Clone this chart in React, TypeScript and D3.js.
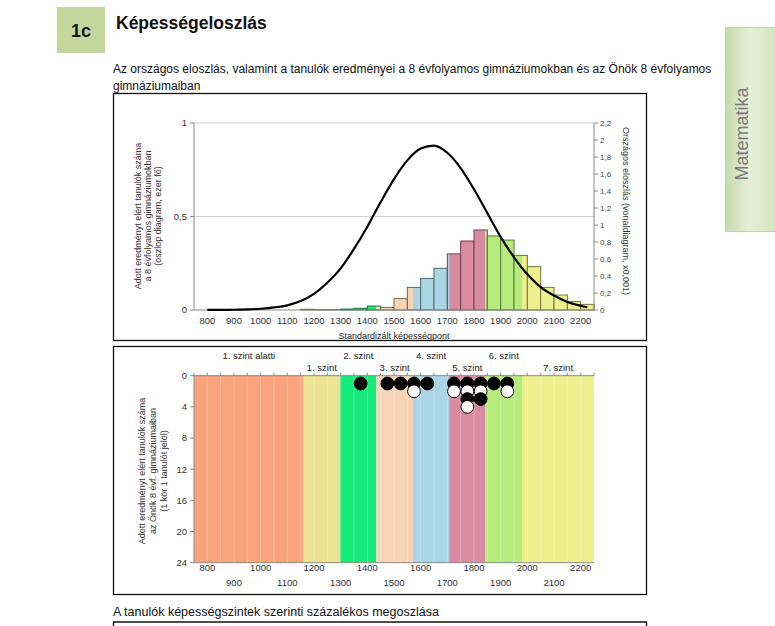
import React from 'react';
import * as d3 from 'd3';

// ---------- DATA ----------
const binStarts = [800, 850, 900, 950, 1000, 1050, 1100, 1150, 1200, 1250, 1300, 1350, 1400, 1450, 1500, 1550, 1600, 1650, 1700, 1750, 1800, 1850, 1900, 1950, 2000, 2050, 2100, 2150, 2200];
const barValues = [0, 0, 0, 0, 0, 0, 0, 0.004, 0.002, 0.002, 0.005, 0.009, 0.021, 0.014, 0.061, 0.121, 0.169, 0.223, 0.3, 0.369, 0.428, 0.396, 0.374, 0.292, 0.232, 0.121, 0.08, 0.045, 0.03];

const curveScores = [800, 850, 900, 950, 1000, 1050, 1100, 1150, 1200, 1250, 1300, 1350, 1400, 1450, 1500, 1550, 1600, 1650, 1700, 1750, 1800, 1850, 1900, 1950, 2000, 2050, 2100, 2150, 2200, 2225];
const curveValues = [0.001, 0.002, 0.003, 0.007, 0.015, 0.03, 0.055, 0.105, 0.19, 0.32, 0.49, 0.72, 0.98, 1.27, 1.54, 1.76, 1.9, 1.935, 1.85, 1.67, 1.42, 1.14, 0.86, 0.62, 0.42, 0.27, 0.17, 0.095, 0.05, 0.032];

const levelNames = ['1. szint alatti', '1. szint', '2. szint', '3. szint', '4. szint', '5. szint', '6. szint', '7. szint'];
const levelBounds = [750, 1161, 1298, 1434, 1571, 1707, 1843, 1980, 2250];
const levelColors = ['#F9A47C', '#EDE394', '#16EA78', '#FAD5B5', '#AAD5E3', '#DB8BA1', '#B5EC7C', '#EEF08E'];

const dotBins = [1375, 1475, 1525, 1575, 1625, 1725, 1775, 1825, 1875, 1925];
const dotCounts = [1, 1, 1, 2, 1, 2, 4, 3, 1, 2];

const xTicks = [800, 900, 1000, 1100, 1200, 1300, 1400, 1500, 1600, 1700, 1800, 1900, 2000, 2100, 2200];
const xTicksRow1 = [800, 1000, 1200, 1400, 1600, 1800, 2000, 2200];
const xTicksRow2 = [900, 1100, 1300, 1500, 1700, 1900, 2100];
const leftTicks = [0, 0.5, 1];
const rightTicks = [0, 0.2, 0.4, 0.6, 0.8, 1, 1.2, 1.4, 1.6, 1.8, 2, 2.2];
const dotTicks = [0, 4, 8, 12, 16, 20, 24];

const FONT = "'Liberation Sans', Arial, sans-serif";
const fmt = (v: number) => String(v).replace('.', ',');

export default function App() {
  const W = 775, H = 626;
  const x = d3.scaleLinear().domain([750, 2250]).range([194, 594]);
  const yL = d3.scaleLinear().domain([0, 1]).range([310, 123]);
  const yR = d3.scaleLinear().domain([0, 2.2]).range([310, 123]);
  const yD = d3.scaleLinear().domain([0, 24]).range([375.7, 562.7]);

  const levelAt = (v: number) => {
    for (let i = 0; i < levelNames.length; i++) if (v >= levelBounds[i] && v < levelBounds[i + 1]) return i;
    return levelNames.length - 1;
  };

  const line = d3.line<number>()
    .x((_, i) => x(curveScores[i]))
    .y((d) => yR(d))
    .curve(d3.curveMonotoneX);

  const bars: React.ReactNode[] = [];
  binStarts.forEach((s, i) => {
    const e = s + 50;
    const v = barValues[i];
    if (v <= 0) return;
    const top = yL(v);
    const h = yL(0) - top;
    for (let k = 0; k < levelNames.length; k++) {
      const lo = Math.max(s, levelBounds[k]);
      const hi = Math.min(e, levelBounds[k + 1]);
      if (hi > lo) {
        bars.push(<rect key={`b${i}-${k}`} x={x(lo)} y={top} width={x(hi) - x(lo)} height={h} fill={levelColors[k]} />);
      }
    }
    const stroke = d3.color(levelColors[levelAt(s + 25)])!.darker(2).formatHex();
    bars.push(<rect key={`o${i}`} x={x(s)} y={top} width={x(e) - x(s)} height={h} fill="none" stroke={stroke} strokeWidth={1} />);
  });

  const minorTicks = d3.range(750, 2251, 50);

  const dots: React.ReactNode[] = [];
  const maxCount = d3.max(dotCounts) || 0;
  for (let r = 1; r <= maxCount; r++) {
    dotBins.forEach((b, i) => {
      if (dotCounts[i] >= r) {
        dots.push(<circle key={`d${i}-${r}`} cx={x(b)} cy={yD(r)} r={6.4} fill={r % 2 === 1 ? '#000' : '#fff'} stroke="#000" strokeWidth={1} />);
      }
    });
  }

  return (
    <svg width={W} height={H} style={{ position: 'absolute', left: 0, top: 0, background: '#fff' }} fontFamily={FONT}>
      <defs>
        <linearGradient id="panelGrad" x1="0" x2="1" y1="0" y2="0">
          <stop offset="0" stopColor="#c6d9aa" />
          <stop offset="0.45" stopColor="#e6efd9" />
          <stop offset="1" stopColor="#d3e3bd" />
        </linearGradient>
      </defs>

      {/* header */}
      <rect x={57} y={7} width={48} height={46} fill="#C3D69B" />
      <text x={81} y={37} textAnchor="middle" fontSize={18} fontWeight="bold" fill="#111">1c</text>
      <text x={116} y={29} fontSize={17.5} fontWeight="bold" fill="#111">Képességeloszlás</text>
      <text x={113} y={73} fontSize={12} fill="#111">Az országos eloszlás, valamint a tanulók eredményei a 8 évfolyamos gimnáziumokban és az Önök 8 évfolyamos</text>
      <text x={113} y={90} fontSize={12} fill="#111">gimnáziumaiban</text>

      {/* side panel */}
      <rect x={725.5} y={27.5} width={52} height={204} fill="url(#panelGrad)" stroke="#c2d6a4" />
      <text transform="translate(748,134) rotate(-90)" textAnchor="middle" fontSize={18} fill="#7a7a7a">Matematika</text>

      {/* ---------- top chart ---------- */}
      <rect x={113.5} y={93.5} width={533} height={247} fill="none" stroke="#111" strokeWidth={1.3} />
      {leftTicks.filter((t) => t > 0).map((t) => (
        <line key={`g${t}`} x1={194} x2={594} y1={yL(t)} y2={yL(t)} stroke="#d0d0d0" strokeWidth={1} />
      ))}
      {bars}
      <line x1={194} x2={594} y1={310} y2={310} stroke="#888" />
      <path d={line(curveValues) || ''} fill="none" stroke="#000" strokeWidth={2.2} />
      {/* left axis */}
      <line x1={194} x2={194} y1={123} y2={310} stroke="#888" />
      {leftTicks.map((t) => (
        <g key={`lt${t}`}>
          <line x1={190} x2={194} y1={yL(t)} y2={yL(t)} stroke="#888" />
          <text x={187} y={yL(t) + 3.3} textAnchor="end" fontSize={9.5} fill="#333">{fmt(t)}</text>
        </g>
      ))}
      {/* right axis */}
      <line x1={594} x2={594} y1={123} y2={310} stroke="#888" />
      {rightTicks.map((t) => (
        <g key={`rt${t}`}>
          <line x1={594} x2={598} y1={yR(t)} y2={yR(t)} stroke="#888" />
          <text x={600} y={yR(t) + 3} fontSize={8} fill="#444">{fmt(Math.round(t * 10) / 10)}</text>
        </g>
      ))}
      {xTicks.map((t) => (
        <text key={`xt${t}`} x={x(t)} y={324} textAnchor="middle" fontSize={9.5} fill="#333">{t}</text>
      ))}
      <text x={394} y={339} textAnchor="middle" fontSize={9} fill="#222">Standardizált képességpont</text>
      <g transform="translate(148,216) rotate(-90)" fontSize={9} fill="#333" textAnchor="middle">
        <text y={-7}>Adott eredményt elért tanulók száma</text>
        <text y={3}>a 8 évfolyamos gimnáziumokban</text>
        <text y={13}>(oszlop diagram, ezer fő)</text>
      </g>
      <text transform="translate(623,211) rotate(90)" textAnchor="middle" fontSize={9} fill="#333">Országos eloszlás (vonaldiagram, x0,001)</text>

      {/* ---------- bottom chart ---------- */}
      <rect x={113.5} y={346.5} width={533} height={248} fill="none" stroke="#111" strokeWidth={1.3} />
      {levelNames.map((n, k) => (
        <rect key={`band${k}`} x={x(levelBounds[k])} y={yD(0)} width={x(levelBounds[k + 1]) - x(levelBounds[k])} height={yD(24) - yD(0)} fill={levelColors[k]} />
      ))}
      {minorTicks.slice(1, -1).map((t) => (
        <line key={`vl${t}`} x1={x(t)} x2={x(t)} y1={yD(0)} y2={yD(24)} stroke="#fff" strokeOpacity={0.28} />
      ))}
      <line x1={194} x2={594} y1={yD(0)} y2={yD(0)} stroke="#888" />
      {minorTicks.map((t) => (
        <line key={`mt${t}`} x1={x(t)} x2={x(t)} y1={yD(0) - 3} y2={yD(0)} stroke="#888" />
      ))}
      <line x1={194} x2={594} y1={yD(24)} y2={yD(24)} stroke="#888" />
      <line x1={194} x2={194} y1={yD(0)} y2={yD(24)} stroke="#888" />
      {dotTicks.map((t) => (
        <g key={`dt${t}`}>
          <line x1={190} x2={194} y1={yD(t)} y2={yD(t)} stroke="#888" />
          <text x={187} y={yD(t) + 3.3} textAnchor="end" fontSize={9.5} fill="#333">{t}</text>
        </g>
      ))}
      {levelNames.map((n, k) => (
        <text key={`ln${k}`} x={(x(levelBounds[k]) + x(levelBounds[k + 1])) / 2} y={k % 2 === 0 ? 358.5 : 370.5} textAnchor="middle" fontSize={9.5} fill="#222">{n}</text>
      ))}
      {dots}
      {xTicksRow1.map((t) => (
        <text key={`r1${t}`} x={x(t)} y={571} textAnchor="middle" fontSize={9.5} fill="#333">{t}</text>
      ))}
      {xTicksRow2.map((t) => (
        <text key={`r2${t}`} x={x(t)} y={586} textAnchor="middle" fontSize={9.5} fill="#333">{t}</text>
      ))}
      <g transform="translate(153,471) rotate(-90)" fontSize={9} fill="#333" textAnchor="middle">
        <text y={-8}>Adott eredményt elért tanulók száma</text>
        <text y={3}>az Önök 8 évf. gimnáziumaiban</text>
        <text y={14}>(1 kör 1 tanulót jelöl)</text>
      </g>

      {/* bottom heading */}
      <text x={113} y={616} fontSize={12.5} fill="#111">A tanulók képességszintek szerinti százalékos megoszlása</text>
      <line x1={113} x2={647} y1={622} y2={622} stroke="#111" strokeWidth={1.3} />
      <line x1={113.5} x2={113.5} y1={622} y2={626} stroke="#111" strokeWidth={1.3} />
      <line x1={646.5} x2={646.5} y1={622} y2={626} stroke="#111" strokeWidth={1.3} />
    </svg>
  );
}
